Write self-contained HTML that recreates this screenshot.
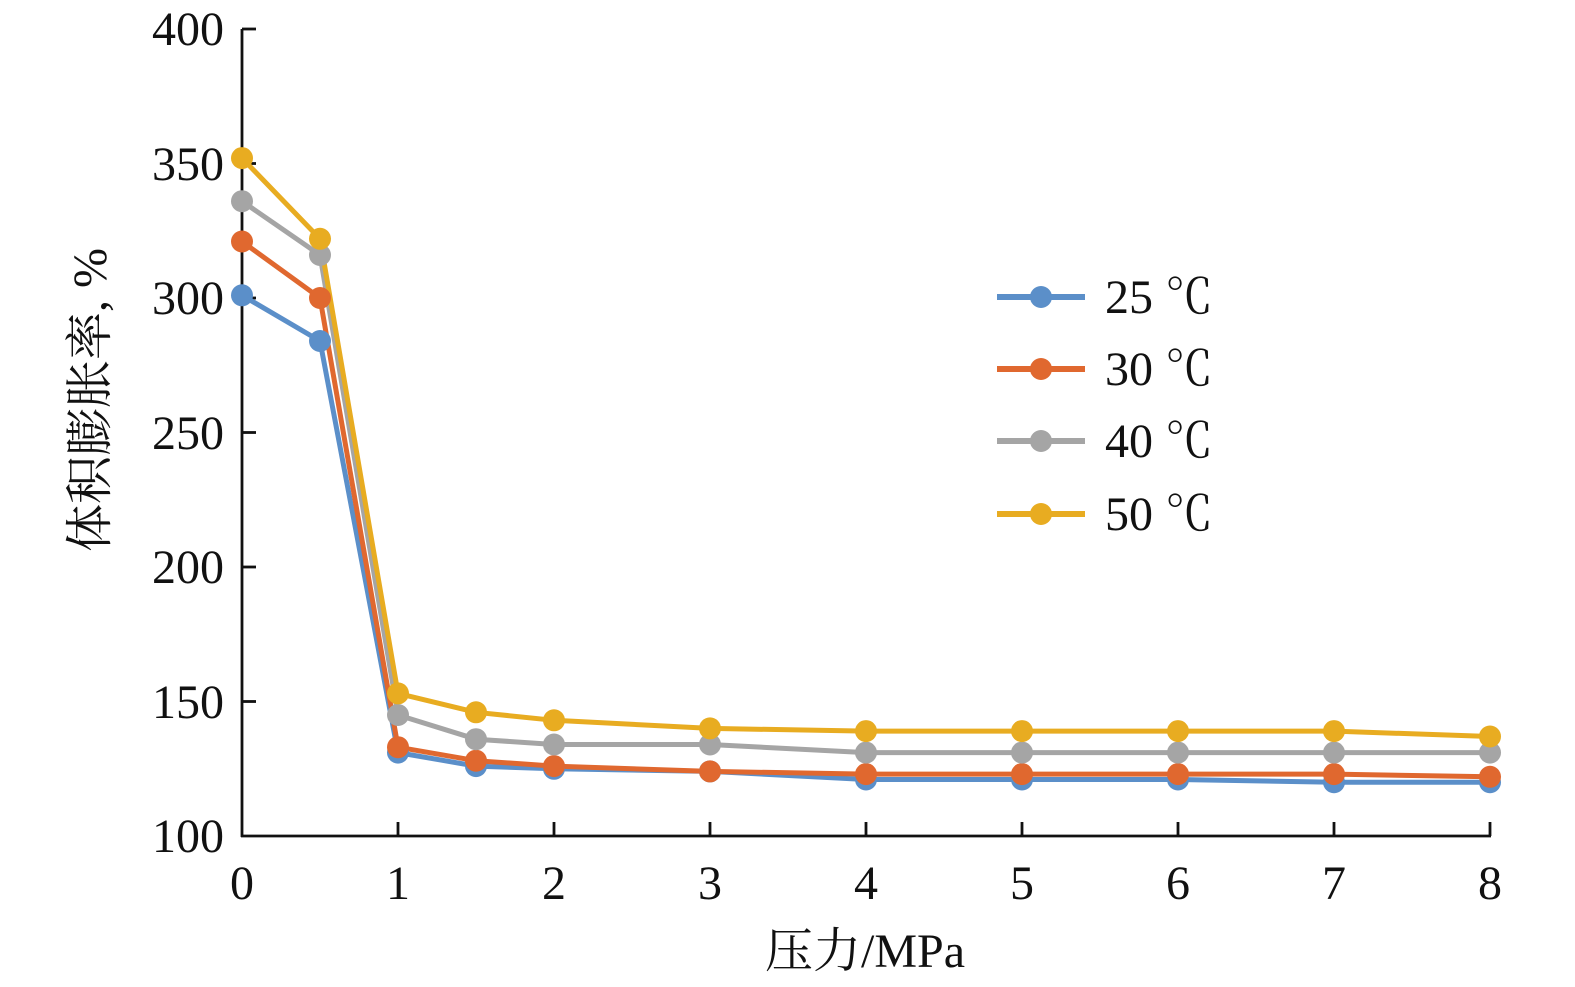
<!DOCTYPE html>
<html><head><meta charset="utf-8"><style>
html,body{margin:0;padding:0;background:#fff;}
svg{display:block;}
text{font-family:"Liberation Serif","Noto Serif CJK SC",serif;fill:#111;}
</style></head><body>
<svg width="1575" height="987" viewBox="0 0 1575 987" xmlns="http://www.w3.org/2000/svg">
<g stroke="#111" stroke-width="2.8" fill="none">
<line x1="242" y1="29" x2="242" y2="837"/>
<line x1="241" y1="836" x2="1491" y2="836"/>
<line x1="242" y1="29" x2="256" y2="29"/>
<line x1="242" y1="163.5" x2="256" y2="163.5"/>
<line x1="242" y1="298" x2="256" y2="298"/>
<line x1="242" y1="432.5" x2="256" y2="432.5"/>
<line x1="242" y1="567" x2="256" y2="567"/>
<line x1="242" y1="701.5" x2="256" y2="701.5"/>
<line x1="398" y1="836" x2="398" y2="822"/>
<line x1="554" y1="836" x2="554" y2="822"/>
<line x1="710" y1="836" x2="710" y2="822"/>
<line x1="866" y1="836" x2="866" y2="822"/>
<line x1="1022" y1="836" x2="1022" y2="822"/>
<line x1="1178" y1="836" x2="1178" y2="822"/>
<line x1="1334" y1="836" x2="1334" y2="822"/>
<line x1="1490" y1="836" x2="1490" y2="822"/>
</g>
<g font-size="48" text-anchor="end">
<text x="224" y="45">400</text>
<text x="224" y="180">350</text>
<text x="224" y="314">300</text>
<text x="224" y="449">250</text>
<text x="224" y="583">200</text>
<text x="224" y="718">150</text>
<text x="224" y="852">100</text>
</g>
<g font-size="48" text-anchor="middle">
<text x="242" y="899">0</text>
<text x="398" y="899">1</text>
<text x="554" y="899">2</text>
<text x="710" y="899">3</text>
<text x="866" y="899">4</text>
<text x="1022" y="899">5</text>
<text x="1178" y="899">6</text>
<text x="1334" y="899">7</text>
<text x="1490" y="899">8</text>
<text x="865" y="967">压力/MPa</text>
<text transform="translate(106,400) rotate(-90)">体积膨胀率, %</text>
</g>
<g fill="none" stroke-width="5" stroke-linejoin="round">
<polyline stroke="#5b8fc9" points="242,295.3 320,341 398,752.6 476,766.1 554,768.8 710,771.4 866,779.5 1022,779.5 1178,779.5 1334,782.2 1490,782.2"/>
<polyline stroke="#e0682f" points="242,241.5 320,298 398,747.2 476,760.7 554,766.1 710,771.4 866,774.1 1022,774.1 1178,774.1 1334,774.1 1490,776.8"/>
<polyline stroke="#a5a5a5" points="242,201.2 320,255 398,715 476,739.2 554,744.5 710,744.5 866,752.6 1022,752.6 1178,752.6 1334,752.6 1490,752.6"/>
<polyline stroke="#e8ac21" points="242,158.1 320,238.8 398,693.4 476,712.3 554,720.3 710,728.4 866,731.1 1022,731.1 1178,731.1 1334,731.1 1490,736.5"/>
</g>
<g fill="#5b8fc9"><circle cx="242" cy="295.3" r="11"/><circle cx="320" cy="341" r="11"/><circle cx="398" cy="752.6" r="11"/><circle cx="476" cy="766.1" r="11"/><circle cx="554" cy="768.8" r="11"/><circle cx="710" cy="771.4" r="11"/><circle cx="866" cy="779.5" r="11"/><circle cx="1022" cy="779.5" r="11"/><circle cx="1178" cy="779.5" r="11"/><circle cx="1334" cy="782.2" r="11"/><circle cx="1490" cy="782.2" r="11"/></g>
<g fill="#e0682f"><circle cx="242" cy="241.5" r="11"/><circle cx="320" cy="298" r="11"/><circle cx="398" cy="747.2" r="11"/><circle cx="476" cy="760.7" r="11"/><circle cx="554" cy="766.1" r="11"/><circle cx="710" cy="771.4" r="11"/><circle cx="866" cy="774.1" r="11"/><circle cx="1022" cy="774.1" r="11"/><circle cx="1178" cy="774.1" r="11"/><circle cx="1334" cy="774.1" r="11"/><circle cx="1490" cy="776.8" r="11"/></g>
<g fill="#a5a5a5"><circle cx="242" cy="201.2" r="11"/><circle cx="320" cy="255" r="11"/><circle cx="398" cy="715" r="11"/><circle cx="476" cy="739.2" r="11"/><circle cx="554" cy="744.5" r="11"/><circle cx="710" cy="744.5" r="11"/><circle cx="866" cy="752.6" r="11"/><circle cx="1022" cy="752.6" r="11"/><circle cx="1178" cy="752.6" r="11"/><circle cx="1334" cy="752.6" r="11"/><circle cx="1490" cy="752.6" r="11"/></g>
<g fill="#e8ac21"><circle cx="242" cy="158.1" r="11"/><circle cx="320" cy="238.8" r="11"/><circle cx="398" cy="693.4" r="11"/><circle cx="476" cy="712.3" r="11"/><circle cx="554" cy="720.3" r="11"/><circle cx="710" cy="728.4" r="11"/><circle cx="866" cy="731.1" r="11"/><circle cx="1022" cy="731.1" r="11"/><circle cx="1178" cy="731.1" r="11"/><circle cx="1334" cy="731.1" r="11"/><circle cx="1490" cy="736.5" r="11"/></g>
<g stroke-width="6">
<line x1="997" y1="297" x2="1085" y2="297" stroke="#5b8fc9"/><circle cx="1041" cy="297" r="11" fill="#5b8fc9"/>
<line x1="997" y1="369" x2="1085" y2="369" stroke="#e0682f"/><circle cx="1041" cy="369" r="11" fill="#e0682f"/>
<line x1="997" y1="441" x2="1085" y2="441" stroke="#a5a5a5"/><circle cx="1041" cy="441" r="11" fill="#a5a5a5"/>
<line x1="997" y1="514" x2="1085" y2="514" stroke="#e8ac21"/><circle cx="1041" cy="514" r="11" fill="#e8ac21"/>
</g>
<g font-size="48">
<text x="1105" y="313">25 ℃</text>
<text x="1105" y="385">30 ℃</text>
<text x="1105" y="457">40 ℃</text>
<text x="1105" y="530">50 ℃</text>
</g>
</svg>
</body></html>
